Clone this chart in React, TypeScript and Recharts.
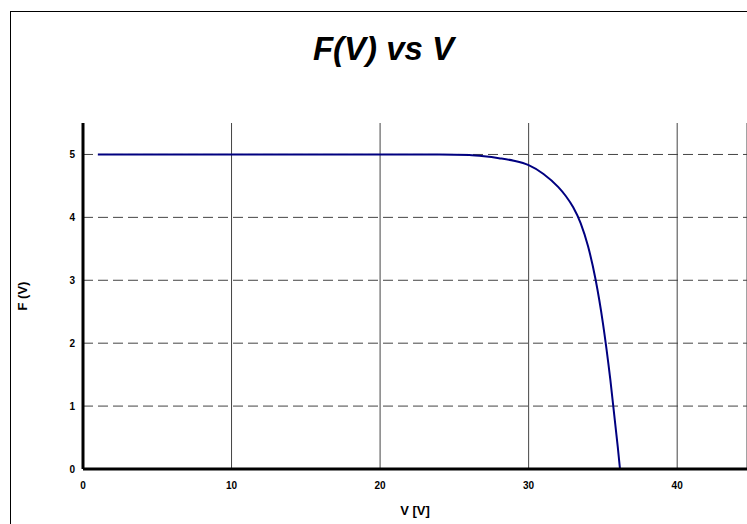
import React from "react";
import {
  LineChart,
  Line,
  XAxis,
  YAxis,
  CartesianGrid,
  ReferenceLine,
  Label,
} from "recharts";

// V values (x) and F(V) readings (y)
const voltage = [1, 5, 10, 15, 20, 24, 26, 27, 28, 29, 30, 31, 32, 32.5, 33, 33.5, 34, 34.5, 35, 35.5, 36, 36.15];
const fValues = [5.0, 5.0, 5.0, 5.0, 5.0, 5.0, 4.99, 4.97, 4.94, 4.9, 4.83, 4.69, 4.48, 4.34, 4.16, 3.91, 3.54, 3.02, 2.32, 1.42, 0.35, 0];

const xTicks = [0, 10, 20, 30, 40];
const yTicks = [0, 1, 2, 3, 4, 5];

const data = voltage.map((v, i) => ({ v, f: fValues[i] }));

const font = "'Liberation Sans', Arial, sans-serif";

const App: React.FC = () => {
  return (
    <div
      style={{
        position: "absolute",
        left: 0,
        top: 0,
        width: 747,
        height: 524,
        background: "#fff",
        overflow: "hidden",
        fontFamily: font,
      }}
    >
      <div
        style={{
          position: "absolute",
          left: 10,
          top: 11,
          width: 760,
          height: 540,
          borderLeft: "1px solid #000",
          borderTop: "1px solid #000",
        }}
      />
      <div
        style={{
          position: "absolute",
          left: 10,
          top: 33,
          width: 747,
          textAlign: "center",
          fontSize: 33,
          lineHeight: "32px",
          fontWeight: "bold",
          fontStyle: "italic",
        }}
      >
        F(V) vs V
      </div>
      <div style={{ position: "absolute", left: 0, top: 0 }}>
        <LineChart
          width={747}
          height={524}
          data={data}
          margin={{ top: 123, right: 0, bottom: 0, left: 0 }}
        >
          <CartesianGrid
            horizontal={false}
            vertical={true}
            stroke="#444"
            strokeWidth={1}
          />
          {yTicks
            .filter((t) => t > 0)
            .map((t) => (
              <ReferenceLine
                key={t}
                y={t}
                stroke="#444"
                strokeDasharray="10 5"
              />
            ))}
          <XAxis
            dataKey="v"
            type="number"
            domain={[0, 44.7]}
            ticks={xTicks}
            allowDataOverflow
            height={55}
            tickSize={0}
            tickMargin={13}
            axisLine={{ stroke: "#000", strokeWidth: 3 }}
            tick={{ fill: "#000", fontSize: 10, fontWeight: "bold", fontFamily: font }}
          >
            <Label
              value="V [V]"
              position="insideBottom"
              offset={9}
              style={{ fill: "#000", fontSize: 13, fontWeight: "bold", fontFamily: font }}
            />
          </XAxis>
          <YAxis
            type="number"
            domain={[0, 5.5]}
            ticks={yTicks}
            width={83}
            tickSize={0}
            tickMargin={8}
            axisLine={{ stroke: "#000", strokeWidth: 3 }}
            tick={{ fill: "#000", fontSize: 10, fontWeight: "bold", fontFamily: font }}
          >
            <Label
              value="F (V)"
              angle={-90}
              position="insideLeft"
              offset={22}
              style={{ fill: "#000", fontSize: 13, fontWeight: "bold", fontFamily: font, textAnchor: "middle" }}
            />
          </YAxis>
          <Line
            type="monotone"
            dataKey="f"
            stroke="#000080"
            strokeWidth={2}
            dot={false}
            isAnimationActive={false}
          />
        </LineChart>
      </div>
    </div>
  );
};

export default App;
